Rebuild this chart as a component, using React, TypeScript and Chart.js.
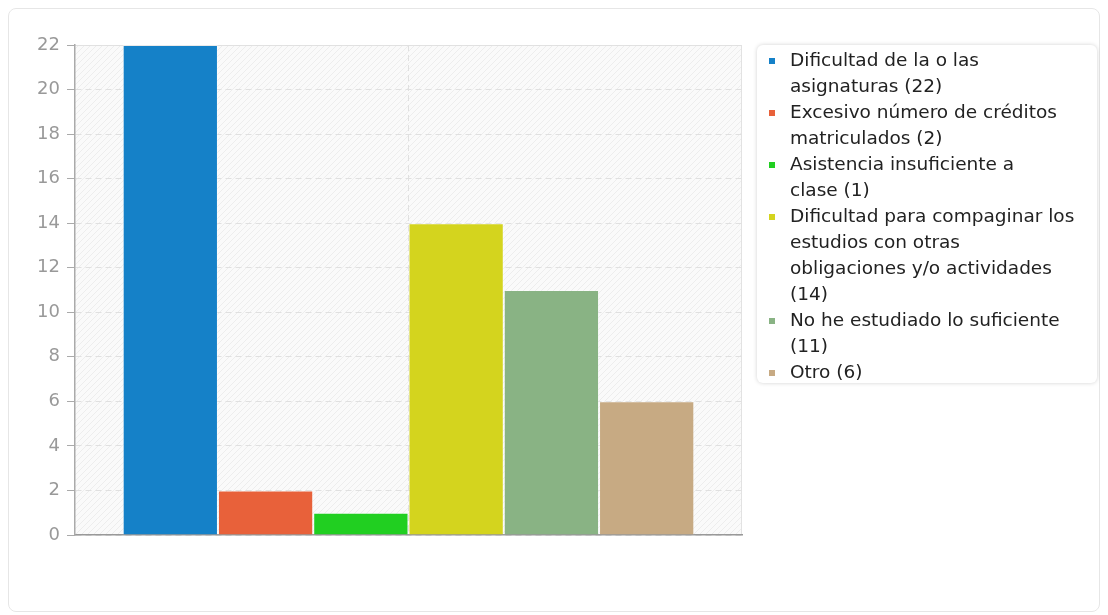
import React, { useEffect, useRef } from "react";
import { Chart, registerables } from "chart.js";

Chart.register(...registerables);

const categories = [""];
const seriesLabels = [
  "Dificultad de la o las asignaturas",
  "Excesivo número de créditos matriculados",
  "Asistencia insuficiente a clase",
  "Dificultad para compaginar los estudios con otras obligaciones y/o actividades",
  "No he estudiado lo suficiente",
  "Otro",
];
const seriesValues = [22, 2, 1, 14, 11, 6];
const seriesColors = ["#1581c8", "#e8613a", "#21cf21", "#d4d41e", "#89b384", "#c7aa83"];
const legendLines = [
  ["Dificultad de la o las", "asignaturas (22)"],
  ["Excesivo número de créditos", "matriculados (2)"],
  ["Asistencia insuficiente a", "clase (1)"],
  ["Dificultad para compaginar los", "estudios con otras", "obligaciones y/o actividades", "(14)"],
  ["No he estudiado lo suficiente", "(11)"],
  ["Otro (6)"],
];
const yMin = 0;
const yMax = 22;
const yStep = 2;

const FONT = "'DejaVu Sans', sans-serif";

export default function App() {
  const ref = useRef<HTMLCanvasElement>(null);

  useEffect(() => {
    const canvas = ref.current!;
    const pc = document.createElement("canvas");
    pc.width = 6;
    pc.height = 6;
    const p = pc.getContext("2d")!;
    p.fillStyle = "#fafafa";
    p.fillRect(0, 0, 6, 6);
    p.strokeStyle = "#ededed";
    p.lineWidth = 1;
    p.beginPath();
    p.moveTo(0, 6);
    p.lineTo(6, 0);
    p.moveTo(-1, 1);
    p.lineTo(1, -1);
    p.moveTo(5, 7);
    p.lineTo(7, 5);
    p.stroke();

    const bgPlugin = {
      id: "bgPattern",
      beforeDraw(chart: any) {
        const { ctx, chartArea: a } = chart;
        const pat = ctx.createPattern(pc, "repeat");
        ctx.save();
        ctx.fillStyle = pat;
        ctx.fillRect(a.left, a.top, a.right - a.left, a.bottom - a.top);
        ctx.strokeStyle = "#e2e2e2";
        ctx.lineWidth = 1;
        ctx.beginPath();
        ctx.moveTo(a.left, a.top + 0.5);
        ctx.lineTo(a.right, a.top + 0.5);
        ctx.moveTo(a.right - 0.5, a.top);
        ctx.lineTo(a.right - 0.5, a.bottom);
        ctx.stroke();
        ctx.restore();
      },
    };

    const chart = new Chart(canvas, {
      type: "bar",
      data: {
        labels: categories,
        datasets: seriesLabels.map((l, i) => ({
          label: l,
          data: [seriesValues[i]],
          backgroundColor: seriesColors[i],
          borderColor: "rgba(255,255,255,0.3)",
          borderWidth: 1,
          barPercentage: 1,
          categoryPercentage: 0.857,
        })),
      },
      options: {
        responsive: false,
        animation: false,
        layout: { padding: { top: 37, right: 358, left: 0, bottom: 0 } },
        plugins: { legend: { display: false }, tooltip: { enabled: false } },
        scales: {
          x: {
            ticks: { display: false },
            grid: { offset: false, color: "#e0e0e0", drawTicks: false },
            border: { color: "#999", width: 1.5, dash: [6, 4] },
            afterFit(s: any) {
              s.height = 77;
            },
          },
          y: {
            min: yMin,
            max: yMax,
            ticks: {
              stepSize: yStep,
              color: "#999",
              font: { family: FONT, size: 18 },
              padding: 7,
            },
            grid: {
              color: "#e0e0e0",
              tickColor: "#aaa",
              tickLength: 8,
              tickBorderDash: [1, 0],
              tickWidth: 1,
            },
            border: { color: "#aaa", width: 1.5, dash: [6, 4] },
            afterFit(s: any) {
              s.width = 67;
            },
          },
        },
      },
      plugins: [bgPlugin],
    } as any);

    return () => chart.destroy();
  }, []);

  return (
    <div style={{ position: "relative", width: 1092, height: 604 }}>
      <canvas
        ref={ref}
        width={1092}
        height={604}
        style={{ position: "absolute", left: 0, top: 0, width: 1092, height: 604, display: "block" }}
      />
      <div
        style={{
          position: "absolute",
          left: 0,
          top: 0,
          width: 1092,
          height: 604,
          boxSizing: "border-box",
          border: "1px solid #e6e6e6",
          borderRadius: 8,
          pointerEvents: "none",
        }}
      />
      <div
        style={{
          position: "absolute",
          left: 749,
          top: 37,
          width: 340,
          height: 338,
          boxSizing: "border-box",
          background: "#fff",
          borderRadius: 6,
          boxShadow: "0 0 4px rgba(0,0,0,0.18)",
          paddingTop: 2,
          fontFamily: FONT,
          fontSize: 18.5,
          lineHeight: "26px",
          color: "#222",
        }}
      >
        {legendLines.map((lines, i) => (
          <div key={i} style={{ position: "relative", paddingLeft: 33, whiteSpace: "nowrap" }}>
            <span
              style={{
                position: "absolute",
                left: 12,
                top: 11,
                width: 6,
                height: 6,
                background: seriesColors[i],
              }}
            />
            {lines.map((t, j) => (
              <div key={j}>{t}</div>
            ))}
          </div>
        ))}
      </div>
    </div>
  );
}
